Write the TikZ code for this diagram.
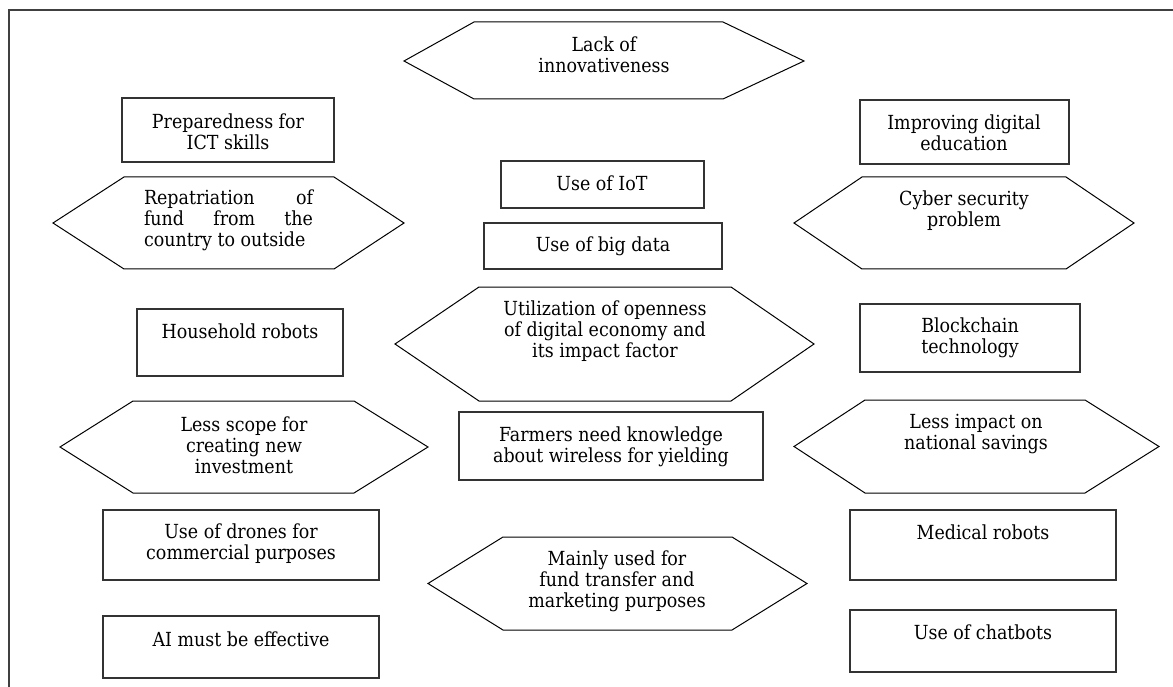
\documentclass[tikz,border=0pt]{standalone}
\usepackage{fontspec}
\setmainfont{DejaVu Serif Condensed}
\begin{document}
\begin{tikzpicture}[x=1pt,y=-1pt,
  boxline/.style={draw=black!80, line width=1.3pt},
  hexline/.style={draw=black, line width=1pt},
  frameline/.style={draw=black!75, line width=1.3pt},
  txt/.style={inner sep=0pt, align=center, font=\fontsize{19.4}{21}\selectfont},
  rectnode/.style={boxline, rectangle, inner sep=0pt, outer sep=0pt, anchor=north west},
]
\useasboundingbox (0,0) rectangle (1173,687);
% frame (only top and left edges are visible)
\coordinate (ftl) at (9,10);
\coordinate (ftr) at (1173,10);
\coordinate (fbl) at (9,687);
\draw[frameline] (ftr) -- (ftl) -- (fbl);

% rectangles
\node[rectnode, minimum width=212pt, minimum height=64pt] (prep) at (122,98) {};
\node[rectnode, minimum width=209pt, minimum height=64pt] (improv) at (860,100) {};
\node[rectnode, minimum width=203pt, minimum height=47pt] (iot) at (501,161) {};
\node[rectnode, minimum width=238pt, minimum height=46pt] (bigdata) at (484,223) {};
\node[rectnode, minimum width=206pt, minimum height=67pt] (house) at (137,309) {};
\node[rectnode, minimum width=220pt, minimum height=68pt] (block) at (860,304) {};
\node[rectnode, minimum width=304pt, minimum height=68pt] (farmers) at (459,412) {};
\node[rectnode, minimum width=276pt, minimum height=70pt] (drones) at (103,510) {};
\node[rectnode, minimum width=276pt, minimum height=62pt] (ai) at (103,616) {};
\node[rectnode, minimum width=266pt, minimum height=70pt] (medical) at (850,510) {};
\node[rectnode, minimum width=266pt, minimum height=62pt] (chatbots) at (850,610) {};

% hexagons
\draw[hexline] (404,61) -- (474,22) -- (723,22) -- (804,61) -- (723,99) -- (474,99) -- cycle;
\coordinate (lack) at (604,61);
\draw[hexline] (53,223) -- (124,177) -- (334,177) -- (404,223) -- (334,269) -- (124,269) -- cycle;
\coordinate (repat) at (228,223);
\draw[hexline] (794,223) -- (862,177) -- (1066,177) -- (1134,223) -- (1066,269) -- (862,269) -- cycle;
\coordinate (cyber) at (964,223);
\draw[hexline] (395,344) -- (479,287) -- (731,287) -- (814,344) -- (731,401) -- (479,401) -- cycle;
\coordinate (util) at (605,344);
\draw[hexline] (60,447) -- (133,401) -- (354,401) -- (428,447) -- (354,493) -- (133,493) -- cycle;
\coordinate (lscope) at (244,447);
\draw[hexline] (794,446.5) -- (865,400) -- (1085,400) -- (1159,446.5) -- (1085,493) -- (865,493) -- cycle;
\coordinate (limpact) at (976,446.5);
\draw[hexline] (428,583.5) -- (503,537) -- (732,537) -- (807,583.5) -- (732,630) -- (503,630) -- cycle;
\coordinate (mainly) at (617,583.5);

% texts
\node[txt] (tlack) at (604,55) {Lack of\\innovativeness};
\node[txt] (tprep) at (228,131.5) {Preparedness for\\ICT skills};
\node[txt] (timprov) at (964,133) {Improving digital\\education};
\node[txt] (tiot) at (602,183) {Use of IoT};
\node[txt, align=left] (trepat) at (228.5,220.5) {\makebox[169pt][s]{Repatriation of}\\\makebox[169pt][s]{fund from the}\\country to outside};
\node[txt] (tcyber) at (964,210.5) {Cyber security\\problem};
\node[txt] (tbig) at (603,246) {Use of big data};
\node[txt] (tutil) at (605,331) {Utilization of openness\\of digital economy and\\its impact factor};
\node[txt] (thouse) at (240,331) {Household robots};
\node[txt] (tblock) at (970,337.5) {Blockchain\\technology};
\node[txt] (tlscope) at (244,445.5) {Less scope for\\creating new\\investment};
\node[txt] (tfarm) at (611,446.5) {Farmers need knowledge\\about wireless for yielding};
\node[txt] (tlimpact) at (976,434) {Less impact on\\national savings};
\node[txt] (tdrones) at (241,543.5) {Use of drones for\\commercial purposes};
\node[txt] (tmed) at (983,532) {Medical robots};
\node[txt] (tmainly) at (617,581.5) {Mainly used for\\fund transfer and\\marketing purposes};
\node[txt] (tai) at (241,639) {AI must be effective};
\node[txt] (tchat) at (983,632) {Use of chatbots};
\end{tikzpicture}
\end{document}
